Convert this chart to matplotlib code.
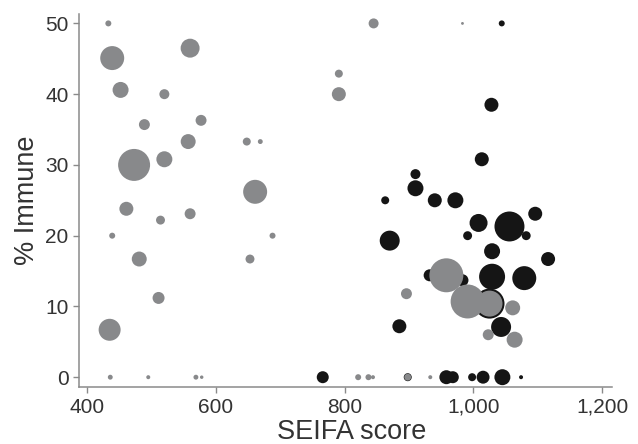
import matplotlib
matplotlib.use("Agg")
import matplotlib.pyplot as plt
from matplotlib.ticker import FuncFormatter

# Gray group: SEIFA score, % immune, bubble weight
gray_x = [433, 439, 452, 520, 560, 489, 577, 557, 648, 669, 473, 520, 661, 461, 560, 514,
          439, 688, 481, 653, 511, 435, 436, 495, 569, 578,
          845, 983, 791, 791, 896, 821, 837, 844, 898, 933,
          958, 991, 1025, 1061, 1023, 1064]
gray_y = [50, 45.1, 40.6, 40, 46.5, 35.7, 36.3, 33.3, 33.3, 33.3, 30, 30.8, 26.2, 23.8, 23.1, 22.2,
          20, 20, 16.7, 16.7, 11.2, 6.7, 0, 0, 0, 0,
          50, 50, 42.9, 40.0, 11.8, 0, 0, 0, 0, 0,
          14.4, 10.7, 10.4, 9.8, 6.0, 5.3]
gray_w = [9, 144, 64, 25, 90, 30, 30, 56, 16, 6, 256, 64, 144, 49, 30, 20,
          9, 9, 56, 20, 36, 121, 6, 4, 6, 3,
          25, 2, 16, 49, 30, 9, 9, 4, 12, 4,
          289, 289, 169, 56, 30, 64]

# Black group
black_x = [1044, 1028, 1013, 910, 910, 863, 940, 972, 1096, 1008, 1056, 991, 1082, 870,
           1029, 1116, 932, 983, 1025, 1029, 1079, 1043, 885,
           766, 898, 958, 968, 998, 1015, 1045, 1074]
black_y = [50, 38.5, 30.8, 28.7, 26.7, 25.0, 25.0, 25.0, 23.1, 21.8, 21.3, 20.0, 20.0, 19.3,
           17.8, 16.7, 14.4, 13.7, 10.4, 14.2, 14.0, 7.1, 7.2,
           0, 0, 0, 0, 0, 0, 0, 0]
black_w = [9, 49, 49, 25, 64, 16, 49, 64, 49, 81, 225, 20, 20, 100,
           64, 49, 36, 36, 225, 169, 144, 100, 49,
           36, 16, 49, 36, 16, 42, 64, 4]

x_ticks = [400, 600, 800, 1000, 1200]
y_ticks = [0, 10, 20, 30, 40, 50]

plt.rcParams['font.family'] = ['Liberation Sans', 'DejaVu Sans']

fig = plt.figure(figsize=(6.38, 4.44), dpi=100)
ax = fig.add_axes([0.124, 0.128, 0.835, 0.84])

k = 2.07
ax.scatter(black_x, black_y, s=[w * k for w in black_w], color='#151515', edgecolors='none', zorder=2)
ax.scatter(gray_x, gray_y, s=[w * k for w in gray_w], color='#88898b', edgecolors='none', zorder=3)

ax.set_xlim(387.6, 1215)
ax.set_ylim(-1.41, 51.3)
ax.set_xticks(x_ticks)
ax.set_yticks(y_ticks)
ax.xaxis.set_major_formatter(FuncFormatter(lambda v, p: f"{int(v):,}"))

for s in ['top', 'right']:
    ax.spines[s].set_visible(False)
for s in ['left', 'bottom']:
    ax.spines[s].set_color('#8a8a8a')
    ax.spines[s].set_linewidth(1.1)

ax.tick_params(axis='both', colors='#8a8a8a', length=4, width=1.0, direction='out',
               labelsize=15, labelcolor='#333333')
ax.set_xlabel('SEIFA score', fontsize=19.5, color='#333333', labelpad=0)
ax.xaxis.set_label_coords(0.511, -0.085)
ax.xaxis.label.set_verticalalignment('top')
ax.set_ylabel('% Immune', fontsize=19.5, color='#333333', labelpad=4)

fig.savefig('out.png', dpi=100)
